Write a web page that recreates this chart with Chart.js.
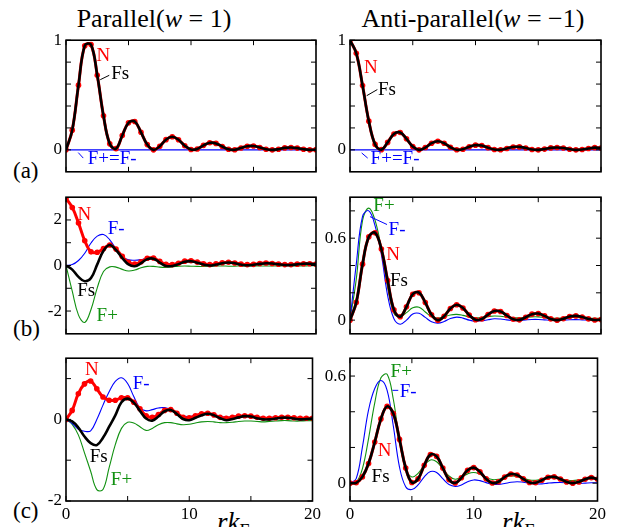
<!DOCTYPE html>
<html>
<head>
  <meta charset="utf-8">
  <title>Parallel vs anti-parallel</title>
  <script src="https://cdn.jsdelivr.net/npm/chart.js"></script>
  <style>
    body { margin: 0; width: 621px; height: 527px; overflow: hidden; background: #fff; position: relative; font-family: "Times New Roman", "Liberation Serif", "DejaVu Serif", serif; }
    canvas { position: absolute; }
    .txt { position: absolute; white-space: nowrap; color: #000; line-height: 1; }
  </style>
</head>
<body>
  <div class="txt" style="left:154px; top:6px; font-size:26px; transform:translateX(-50%)">Parallel(<i>w</i> = 1)</div>
  <div class="txt" style="left:473px; top:6px; font-size:26px; transform:translateX(-50%)">Anti-parallel(<i>w</i> = &minus;1)</div>
  <div class="txt" style="left:13px; top:159px; font-size:23px">(a)</div>
  <div class="txt" style="left:13px; top:317px; font-size:23px">(b)</div>
  <div class="txt" style="left:13px; top:499px; font-size:23px">(c)</div>
  <div class="txt" style="left:217px; top:509px; font-size:27px"><i>rk</i><sub style="font-size:18px">F</sub></div>
  <div class="txt" style="left:502px; top:509px; font-size:27px"><i>rk</i><sub style="font-size:18px">F</sub></div>

  <script>
    // x grid (r k_F) shared by all curves
    const rk = [0, 0.5, 1, 1.5, 2, 2.5, 3, 3.5, 4, 4.5, 5, 5.5, 6, 6.5, 7, 7.5, 8, 8.5, 9, 9.5,
                10, 10.5, 11, 11.5, 12, 12.5, 13, 13.5, 14, 14.5, 15, 15.5, 16, 16.5, 17, 17.5, 18, 18.5, 19, 19.5, 20];
    const rkEnds = [0, 20];
    const xTicks = [0, 5, 10, 15, 20];
    const xLabels = [0, 10, 20];

    // (a) parallel
    const aParN  = [0, 0.18, 0.59, 0.95, 0.96, 0.68, 0.31, 0.055, 0.011, 0.131, 0.247, 0.258, 0.16, 0.048, 0, 0.033, 0.093, 0.119, 0.092, 0.038, 0.003, 0.008, 0.041, 0.065, 0.059, 0.031, 0.005, 0.001, 0.017, 0.033, 0.035, 0.022, 0.006, 0, 0.006, 0.018, 0.022, 0.016, 0.006, 0, 0.002];
    const aParFs = [0, 0.18, 0.59, 0.95, 0.96, 0.68, 0.31, 0.055, 0.011, 0.131, 0.247, 0.258, 0.16, 0.048, 0, 0.033, 0.093, 0.119, 0.092, 0.038, 0.003, 0.008, 0.041, 0.065, 0.059, 0.031, 0.005, 0.001, 0.017, 0.033, 0.035, 0.022, 0.006, 0, 0.006, 0.018, 0.022, 0.016, 0.006, 0, 0.002];
    const aParPM = [0, 0];
    // (a) anti-parallel
    const aAntiN  = [1, 0.881, 0.586, 0.262, 0.05, 0.002, 0.068, 0.145, 0.158, 0.101, 0.03, 0, 0.021, 0.061, 0.078, 0.06, 0.024, 0.001, 0.006, 0.028, 0.043, 0.039, 0.02, 0.003, 0.001, 0.013, 0.026, 0.027, 0.017, 0.004, 0, 0.007, 0.018, 0.022, 0.017, 0.006, 0, 0.003, 0.012, 0.02, 0.016];
    const aAntiFs = [1, 0.881, 0.586, 0.262, 0.05, 0.002, 0.068, 0.145, 0.158, 0.101, 0.03, 0, 0.021, 0.061, 0.078, 0.06, 0.024, 0.001, 0.006, 0.028, 0.043, 0.039, 0.02, 0.003, 0.001, 0.013, 0.026, 0.027, 0.017, 0.004, 0, 0.007, 0.018, 0.022, 0.017, 0.006, 0, 0.003, 0.012, 0.02, 0.016];
    const aAntiPM = [0, 0];

    // (b) parallel
    const bParN  = [2.95, 2.55, 1.87, 1.09, 0.6, 0.58, 0.74, 0.9, 0.72, 0.4, 0.14, 0.06, 0.16, 0.32, 0.33, 0.18, 0.05, 0.04, 0.1, 0.19, 0.21, 0.15, 0.08, 0.04, 0.07, 0.12, 0.14, 0.11, 0.06, 0.04, 0.05, 0.09, 0.11, 0.09, 0.06, 0.04, 0.04, 0.06, 0.08, 0.08, 0.06];
    const bParFs = [0, -0.18, -0.5, -0.69, -0.55, 0.05, 0.65, 0.9, 0.68, 0.33, 0.05, -0.03, 0.1, 0.28, 0.3, 0.13, -0.02, -0.02, 0.06, 0.16, 0.19, 0.12, 0.04, 0, 0.04, 0.1, 0.13, 0.1, 0.04, 0.01, 0.03, 0.07, 0.1, 0.09, 0.05, 0.02, 0.02, 0.05, 0.08, 0.08, 0.06];
    const bParFp = [0, -1.13, -2.18, -2.5, -1.93, -0.98, -0.26, -0.06, -0.07, -0.17, -0.24, -0.2, -0.1, -0.04, -0.04, -0.07, -0.08, -0.06, -0.03, -0.02, -0.03, -0.04, -0.04, -0.03, -0.02, -0.02, -0.03, -0.03, -0.02, -0.02, -0.02, -0.02, -0.02, -0.02, -0.02, -0.01, -0.01, -0.02, -0.02, -0.01, -0.01];
    const bParFm = [0, 0.04, 0.22, 0.54, 0.99, 1.29, 1.36, 1.13, 0.73, 0.38, 0.25, 0.23, 0.26, 0.32, 0.3, 0.18, 0.09, 0.08, 0.12, 0.18, 0.17, 0.12, 0.06, 0.05, 0.07, 0.11, 0.12, 0.09, 0.05, 0.04, 0.06, 0.08, 0.08, 0.06, 0.04, 0.04, 0.05, 0.06, 0.06, 0.05, 0.04];
    // (b) anti-parallel
    const bAntiN  = [0, 0.13, 0.41, 0.61, 0.64, 0.52, 0.29, 0.075, 0.025, 0.098, 0.19, 0.201, 0.129, 0.039, 0, 0.029, 0.085, 0.113, 0.089, 0.037, 0.003, 0.008, 0.041, 0.067, 0.063, 0.034, 0.006, 0.002, 0.021, 0.044, 0.048, 0.031, 0.009, 0, 0.01, 0.026, 0.031, 0.023, 0.009, 0.001, 0.004];
    const bAntiFs = [0, 0.13, 0.41, 0.61, 0.64, 0.52, 0.29, 0.075, 0.025, 0.098, 0.19, 0.201, 0.129, 0.039, 0, 0.029, 0.085, 0.113, 0.089, 0.037, 0.003, 0.008, 0.041, 0.067, 0.063, 0.034, 0.006, 0.002, 0.021, 0.044, 0.048, 0.031, 0.009, 0, 0.01, 0.026, 0.031, 0.023, 0.009, 0.001, 0.004];
    const bAntiFp = [0, 0.3, 0.73, 0.82, 0.73, 0.52, 0.24, 0.05, 0.025, 0.055, 0.09, 0.095, 0.06, 0.025, 0.015, 0.025, 0.038, 0.042, 0.035, 0.024, 0.018, 0.02, 0.026, 0.03, 0.028, 0.022, 0.017, 0.017, 0.02, 0.024, 0.024, 0.02, 0.016, 0.014, 0.016, 0.019, 0.02, 0.018, 0.015, 0.013, 0.014];
    const bAntiFm = [0, 0.41, 0.76, 0.8, 0.69, 0.48, 0.18, 0.01, -0.03, 0, 0.045, 0.05, 0.02, -0.012, -0.022, -0.01, 0.012, 0.022, 0.015, 0, -0.007, -0.005, 0.003, 0.01, 0.008, 0.002, -0.003, -0.002, 0.002, 0.005, 0.005, 0.002, -0.001, -0.002, 0, 0.003, 0.004, 0.002, 0, -0.001, 0];

    // (c) parallel
    const cParN  = [0, 0.22, 0.63, 0.87, 0.94, 0.75, 0.55, 0.47, 0.47, 0.53, 0.53, 0.42, 0.26, 0.09, 0.05, 0.12, 0.22, 0.24, 0.15, 0.05, 0.04, 0.09, 0.14, 0.15, 0.11, 0.05, 0.03, 0.05, 0.08, 0.09, 0.08, 0.05, 0.03, 0.03, 0.04, 0.05, 0.05, 0.04, 0.03, 0.03, 0.03];
    const cParFs = [0, -0.05, -0.2, -0.42, -0.58, -0.63, -0.45, -0.18, 0.1, 0.42, 0.51, 0.41, 0.21, 0.02, -0.03, 0.07, 0.2, 0.23, 0.13, 0.01, -0.02, 0.04, 0.1, 0.14, 0.1, 0.03, -0.02, 0.01, 0.05, 0.08, 0.07, 0.03, 0, 0, 0.02, 0.04, 0.04, 0.02, 0, 0.01, 0.02];
    const cParFp = [0, -0.12, -0.38, -0.82, -1.27, -1.72, -1.72, -1.18, -0.62, -0.22, -0.07, -0.09, -0.18, -0.27, -0.22, -0.13, -0.08, -0.08, -0.11, -0.13, -0.12, -0.09, -0.06, -0.05, -0.06, -0.08, -0.08, -0.07, -0.05, -0.04, -0.04, -0.05, -0.06, -0.05, -0.04, -0.03, -0.03, -0.04, -0.04, -0.03, -0.03];
    const cParFm = [0, -0.1, -0.24, -0.29, -0.28, 0, 0.35, 0.68, 0.93, 1.02, 0.88, 0.56, 0.28, 0.21, 0.24, 0.28, 0.29, 0.24, 0.15, 0.08, 0.07, 0.1, 0.14, 0.15, 0.12, 0.08, 0.05, 0.06, 0.09, 0.1, 0.09, 0.06, 0.04, 0.04, 0.06, 0.07, 0.06, 0.04, 0.03, 0.04, 0.05];
    // (c) anti-parallel
    const cAntiN  = [0, 0.002, 0.035, 0.11, 0.23, 0.36, 0.43, 0.39, 0.245, 0.085, 0.004, 0.024, 0.1, 0.16, 0.15, 0.085, 0.02, 0.001, 0.03, 0.072, 0.087, 0.063, 0.024, 0.001, 0.008, 0.034, 0.051, 0.046, 0.024, 0.004, 0.002, 0.016, 0.033, 0.035, 0.023, 0.007, 0, 0.007, 0.022, 0.031, 0.022];
    const cAntiFs = [0, 0.002, 0.035, 0.11, 0.23, 0.36, 0.43, 0.39, 0.245, 0.085, 0.004, 0.024, 0.1, 0.16, 0.15, 0.085, 0.02, 0.001, 0.03, 0.072, 0.087, 0.063, 0.024, 0.001, 0.008, 0.034, 0.051, 0.046, 0.024, 0.004, 0.002, 0.016, 0.033, 0.035, 0.023, 0.007, 0, 0.007, 0.022, 0.031, 0.022];
    const cAntiFp = [0, 0.005, 0.08, 0.25, 0.45, 0.59, 0.61, 0.47, 0.24, 0.08, 0.035, 0.055, 0.1, 0.13, 0.12, 0.08, 0.04, 0.022, 0.033, 0.052, 0.06, 0.05, 0.032, 0.02, 0.022, 0.033, 0.04, 0.038, 0.028, 0.018, 0.016, 0.022, 0.029, 0.03, 0.025, 0.018, 0.015, 0.018, 0.023, 0.026, 0.023];
    const cAntiFm = [0, 0.025, 0.2, 0.41, 0.53, 0.575, 0.52, 0.32, 0.09, -0.02, -0.036, -0.01, 0.035, 0.065, 0.06, 0.025, -0.008, -0.018, -0.01, 0.008, 0.018, 0.014, 0.003, -0.006, -0.007, -0.002, 0.005, 0.008, 0.005, 0, -0.004, -0.004, 0, 0.003, 0.004, 0.002, -0.001, -0.002, 0, 0.002, 0.002];

    // y tick marks and which of them carry a label
    const aTicks = [0, 0.2, 0.4, 0.6, 0.8, 1];
    const aLabels = [0, 1];
    const bParTicks = [-2, -1, 0, 1, 2];
    const bParLabels = [-2, 0, 2];
    const bAntiTicks = [0, 0.2, 0.4, 0.6, 0.8];
    const bAntiLabels = [0, 0.6];
    const cParTicks = [-2, -1, 0, 1];
    const cParLabels = [-2, 0];
    const cAntiTicks = [0, 0.2, 0.4, 0.6];
    const cAntiLabels = [0, 0.6];

    const RED = '#ff0000', BLUE = '#0000ff', GREEN = '#119111', BLACK = '#000000';
    const SERIF = '"Times New Roman", "Liberation Serif", "DejaVu Serif", serif';
    const tickFont = { family: SERIF, size: 17 };

    function ds(xs, ys, color, width, order, dots) {
      return {
        data: xs.map((x, i) => ({ x: x, y: ys[i] })),
        borderColor: color,
        backgroundColor: color,
        borderWidth: width,
        pointRadius: dots ? 2.8 : 0,
        pointBorderWidth: 0,
        tension: 0.4,
        order: order
      };
    }
    const Fs = ys => ds(rk, ys, BLACK, 2.6, 0, false);
    const N = ys => ds(rk, ys, RED, 3, 1, true);
    const Fm = ys => ds(rk, ys, BLUE, 1.1, 2, false);
    const Fp = ys => ds(rk, ys, GREEN, 1.1, 3, false);

    // frame, inward tick marks and the curve labels
    function frame(p) {
      return {
        id: 'frame',
        afterDatasetsDraw(chart) {
          const { ctx, chartArea: a, scales: { x, y } } = chart;
          ctx.save();
          ctx.strokeStyle = BLACK;
          ctx.lineWidth = 1;
          ctx.beginPath();
          x.ticks.forEach(t => {
            const px = x.getPixelForValue(t.value);
            ctx.moveTo(px, a.bottom); ctx.lineTo(px, a.bottom - 5);
            ctx.moveTo(px, a.top); ctx.lineTo(px, a.top + 5);
          });
          y.ticks.forEach(t => {
            const py = y.getPixelForValue(t.value);
            ctx.moveTo(a.left, py); ctx.lineTo(a.left + 5, py);
            ctx.moveTo(a.right, py); ctx.lineTo(a.right - 5, py);
          });
          ctx.stroke();
          ctx.lineWidth = 1.6;
          ctx.strokeRect(a.left, a.top, a.right - a.left, a.bottom - a.top);

          ctx.lineWidth = 1;
          (p.leaders || []).forEach(([x1, y1, x2, y2, col]) => {
            ctx.strokeStyle = col;
            ctx.beginPath();
            ctx.moveTo(x.getPixelForValue(x1), y.getPixelForValue(y1));
            ctx.lineTo(x.getPixelForValue(x2), y.getPixelForValue(y2));
            ctx.stroke();
          });
          ctx.font = '19px ' + SERIF;
          ctx.textAlign = 'center';
          ctx.textBaseline = 'middle';
          p.notes.forEach(([txt, nx, ny, col]) => {
            ctx.fillStyle = col;
            ctx.fillText(txt, x.getPixelForValue(nx), y.getPixelForValue(ny));
          });
          ctx.restore();
        }
      };
    }

    function makePanel(p) {
      const [L, R, T, B] = p.box;
      const padB = p.bottom ? 0 : 6;
      const xH = p.bottom ? 26 : 0;
      const c = document.createElement('canvas');
      c.width = R - L + 58;
      c.height = B - T + 10 + padB + xH;
      c.style.left = (L - 50) + 'px';
      c.style.top = (T - 10) + 'px';
      document.body.appendChild(c);

      const has = (list, v) => list.some(l => Math.abs(l - v) < 1e-9);
      new Chart(c, {
        type: 'line',
        data: { datasets: p.datasets },
        plugins: [frame(p)],
        options: {
          responsive: false,
          animation: false,
          events: [],
          layout: { autoPadding: false, padding: { left: 0, right: 8, top: 10, bottom: padB } },
          plugins: { legend: { display: false }, tooltip: { enabled: false } },
          scales: {
            x: {
              type: 'linear', min: 0, max: 20,
              afterBuildTicks: s => { s.ticks = xTicks.map(v => ({ value: v })); },
              afterFit: s => { s.height = xH; },
              grid: { display: false, drawTicks: false },
              border: { display: false },
              ticks: {
                display: p.bottom, padding: 3, color: BLACK, font: tickFont,
                maxRotation: 0, autoSkip: false,
                callback: v => has(xLabels, v) ? String(v) : ''
              }
            },
            y: {
              type: 'linear', min: p.range[0], max: p.range[1],
              afterBuildTicks: s => { s.ticks = p.yTicks.map(v => ({ value: v })); },
              afterFit: s => { s.width = 50; },
              grid: { display: false, drawTicks: false },
              border: { display: false },
              ticks: {
                padding: 4, color: BLACK, font: tickFont, autoSkip: false,
                callback: v => has(p.yLabels, v) ? String(v) : ''
              }
            }
          }
        }
      });
    }

    const panels = [
      {
        box: [66, 316, 36, 180], range: [-0.2, 1], yTicks: aTicks, yLabels: aLabels, bottom: false,
        datasets: [Fs(aParFs), N(aParN), ds(rkEnds, aParPM, BLUE, 1.2, 2, false)],
        notes: [['N', 2.98, 0.86, RED], ['Fs', 4.34, 0.69, BLACK], ['F+=F-', 3.7, -0.085, BLUE]],
        leaders: [[2.74, 0.64, 3.46, 0.68, BLACK], [0.98, -0.025, 1.38, -0.075, BLUE]]
      },
      {
        box: [350, 601, 36, 180], range: [-0.2, 1], yTicks: aTicks, yLabels: aLabels, bottom: false,
        datasets: [Fs(aAntiFs), N(aAntiN), ds(rkEnds, aAntiPM, BLUE, 1.2, 2, false)],
        notes: [['N', 1.67, 0.75, RED], ['Fs', 2.95, 0.55, BLACK], ['F+=F-', 3.59, -0.085, BLUE]],
        leaders: [[1.33, 0.494, 2.18, 0.55, BLACK], [0.93, -0.028, 1.41, -0.075, BLUE]]
      },
      {
        box: [66, 316, 193, 342], range: [-3, 3], yTicks: bParTicks, yLabels: bParLabels, bottom: false,
        datasets: [Fs(bParFs), N(bParN), Fm(bParFm), Fp(bParFp)],
        notes: [['N', 1.46, 2.23, RED], ['F-', 4.02, 1.59, BLUE], ['Fs', 1.62, -1.12, BLACK], ['F+', 3.3, -2.21, GREEN]]
      },
      {
        box: [350, 601, 193, 342], range: [-0.1, 0.9], yTicks: bAntiTicks, yLabels: bAntiLabels, bottom: false,
        datasets: [Fs(bAntiFs), N(bAntiN), Fm(bAntiFm), Fp(bAntiFp)],
        notes: [['F+', 2.71, 0.832, GREEN], ['F-', 3.75, 0.663, BLUE], ['N', 3.43, 0.474, RED], ['Fs', 3.9, 0.29, BLACK]],
        leaders: [[1.59, 0.758, 2.95, 0.70, BLUE]]
      },
      {
        box: [66, 316, 354, 501], range: [-2, 1.5], yTicks: cParTicks, yLabels: cParLabels, bottom: true,
        datasets: [Fs(cParFs), N(cParN), Fm(cParFm), Fp(cParFp)],
        notes: [['N', 2.1, 1.21, RED], ['F-', 6.1, 0.87, BLUE], ['Fs', 2.66, -0.91, BLACK], ['F+', 4.5, -1.48, GREEN]]
      },
      {
        box: [350, 601, 354, 501], range: [-0.1, 0.7], yTicks: cAntiTicks, yLabels: cAntiLabels, bottom: true,
        datasets: [Fs(cAntiFs), N(cAntiN), Fm(cAntiFm), Fp(cAntiFp)],
        notes: [['F+', 4.14, 0.624, GREEN], ['F-', 4.7, 0.51, BLUE], ['N', 2.79, 0.178, RED], ['Fs', 2.47, 0.036, BLACK]],
        leaders: [[3.43, 0.52, 3.9, 0.52, BLUE]]
      }
    ];

    panels.forEach(makePanel);
  </script>
</body>
</html>
